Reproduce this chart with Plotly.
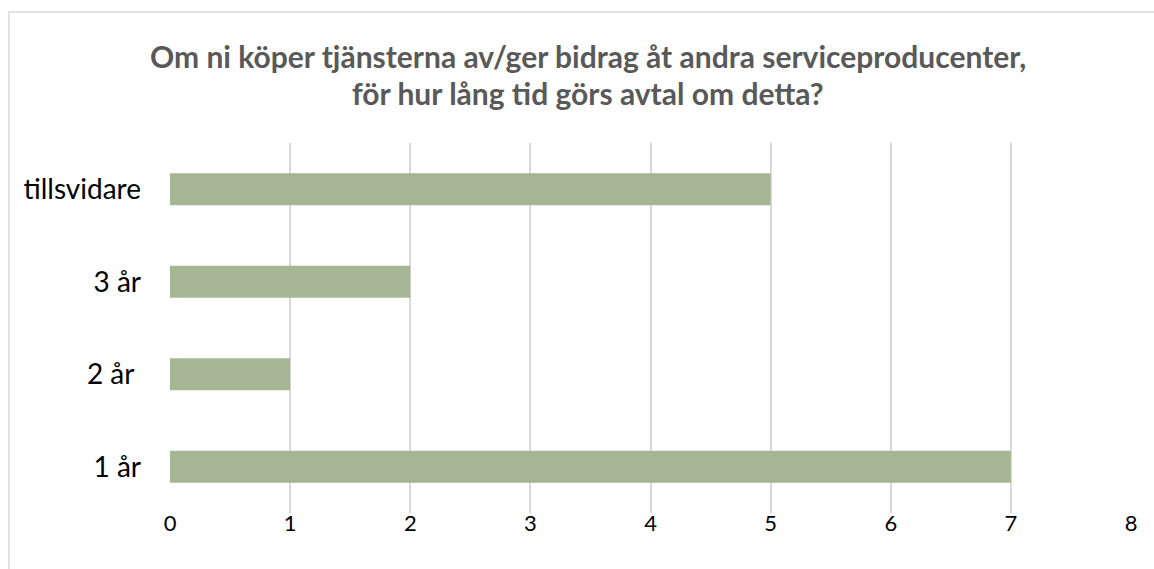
import plotly.graph_objects as go

# category labels, bottom to top
categories = ["1 år", "2 år ", "3 år", "tillsvidare"]
counts = [7, 1, 2, 5]
x_ticks = [0, 1, 2, 3, 4, 5, 6, 7, 8]

title_lines = [
    "Om ni köper tjänsterna av/ger bidrag åt andra serviceproducenter,",
    "för hur lång tid görs avtal om detta?",
]

fig = go.Figure()

fig.add_trace(go.Bar(
    x=counts,
    y=categories,
    orientation="h",
    marker=dict(color="#a6b593", line=dict(width=0)),
    hoverinfo="x+y",
))

# title drawn as two annotations so the line spacing can be tighter
title_font = dict(family="Lato", size=30, color="#595959", weight="bold")
annotations = [
    dict(text=title_lines[0], x=0.435, y=1.236, xref="paper", yref="paper",
         xanchor="center", yanchor="middle", showarrow=False, font=title_font),
    dict(text=title_lines[1], x=0.435, y=1.134, xref="paper", yref="paper",
         xanchor="center", yanchor="middle", showarrow=False, font=title_font),
]

fig.update_layout(
    width=1154,
    height=569,
    margin=dict(l=170, r=23, t=143, b=56),
    paper_bgcolor="white",
    plot_bgcolor="white",
    showlegend=False,
    bargap=0.655,
    annotations=annotations,
    xaxis=dict(
        range=[0, 8],
        tickvals=x_ticks,
        showgrid=True,
        gridcolor="#d9d9d9",
        gridwidth=1.5,
        zeroline=False,
        showline=False,
        tickfont=dict(family="Lato", size=22, color="black"),
        ticklabelstandoff=-5,
    ),
    yaxis=dict(
        showgrid=False,
        zeroline=False,
        showline=False,
        tickfont=dict(family="Lato", size=28, color="black"),
        ticklabelstandoff=28,
    ),
    # outer chart border (right and bottom edges fall outside the picture)
    shapes=[dict(
        type="rect", xref="paper", yref="paper",
        x0=-0.1675, x1=1.3, y0=-0.5, y1=1.354,
        line=dict(color="#d9d9d9", width=1.5),
        fillcolor="rgba(0,0,0,0)",
        layer="below",
    )],
)

# drop the default page margin so the figure fills the window exactly
fig.write_html(
    "out.html",
    config={"displayModeBar": False},
    post_script="document.body.style.margin='0';document.body.style.overflow='hidden';",
)
